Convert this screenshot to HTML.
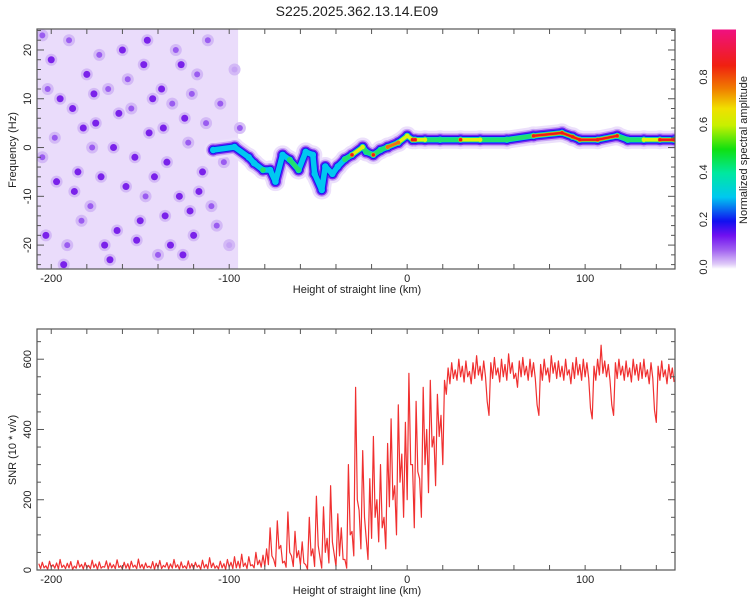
<!DOCTYPE html>
<html><head><meta charset="utf-8">
<style>
body{margin:0;background:#fff;}
svg{display:block;font-family:"Liberation Sans",sans-serif;}
</style></head>
<body>
<svg id="chart" width="750" height="600" xmlns="http://www.w3.org/2000/svg">
<defs>
<linearGradient id="cmap" x1="0" y1="1" x2="0" y2="0">
<stop offset="0" stop-color="#ffffff"/><stop offset="0.02" stop-color="#e0ccf8"/>
<stop offset="0.08" stop-color="#a060f0"/><stop offset="0.14" stop-color="#7010f0"/>
<stop offset="0.2" stop-color="#1010f0"/><stop offset="0.3" stop-color="#00c8f0"/>
<stop offset="0.4" stop-color="#00e8a0"/><stop offset="0.5" stop-color="#10e010"/>
<stop offset="0.6" stop-color="#c8f000"/><stop offset="0.67" stop-color="#f0e000"/>
<stop offset="0.75" stop-color="#f08000"/><stop offset="0.85" stop-color="#f02010"/>
<stop offset="1" stop-color="#f01080"/>
</linearGradient>
<clipPath id="clipTop"><rect x="37" y="29" width="638" height="240"/></clipPath>
<clipPath id="clipBot"><rect x="37" y="329" width="638" height="241"/></clipPath>
</defs>
<text x="357" y="16" text-anchor="middle" font-size="14" fill="#222">S225.2025.362.13.14.E09</text>
<g id="top"></g>
<g id="bot"></g>
<g id="cbar"></g>
</svg>
<script>
// ---- data ----
const xDomain = [-208, 150.5];
const fDomain = [-24.9, 24.3];
const snrDomain = [0, 686];
const xTicks = [-200, -100, 0, 100];
const fTicks = [-20, -10, 0, 10, 20];
const snrTicks = [0, 200, 400, 600];
const cbTicks = [0.0, 0.2, 0.4, 0.6, 0.8];
const cbLabels = ["0.0", "0.2", "0.4", "0.6", "0.8"];
const noiseRegion = [-208, -95];
const ridgeKm = [-109,-97,-89,-86,-81,-77,-74,-70,-66,-61,-57,-53,-52,-48,-46,-42,-39,-35,-31,-25,-23,-19,-15,-11,-5,0,3,4.5,10,18.5,30,41,56,71,87,93,97,107,118,124,133,142,150];
const ridgeHz = [-0.5,0.1,-2,-3.2,-4.6,-4.6,-7,-1.5,-2.5,-4.6,-0.9,-1.5,-5.4,-8.7,-3.9,-5.4,-3.9,-2.4,-1.5,0.1,-0.9,-1.5,-0.5,0.1,1,2.4,1.6,1.6,1.6,1.6,1.6,1.6,1.6,2.4,3.0,2.2,1.6,1.6,2.4,1.6,1.6,1.6,1.6];
const ridgeAmp = [0.3,0.3,0.28,0.3,0.4,0.35,0.3,0.3,0.45,0.45,0.35,0.35,0.3,0.3,0.3,0.3,0.35,0.5,0.85,0.6,0.45,0.8,0.5,0.75,0.75,0.65,0.85,0.9,0.6,0.5,0.8,0.6,0.55,0.85,0.9,0.8,0.8,0.85,0.85,0.5,0.6,0.9,0.85];
const blobKm = [-200,-195,-190,-185,-180,-178,-175,-170,-168,-165,-160,-158,-155,-150,-148,-145,-140,-138,-135,-130,-128,-125,-120,-118,-115,-112,-110,-105,-100,-97,-203,-198,-193,-188,-183,-173,-163,-153,-143,-133,-123,-187,-177,-167,-157,-147,-137,-127,-117,-107,-202,-197,-182,-172,-162,-152,-142,-132,-122,-113,-205,-205,-191,-176,-146,-136,-126,-121,-103,-94];
const blobHz = [18,10,22,-5,15,-12,5,-20,12,0,20,-8,8,-15,17,3,-22,12,-3,20,-10,6,-18,15,-5,22,-12,9,-20,16,-18,2,-24,8,-15,19,-17,-2,10,-20,1,-9,0,-23,14,-10,4,17,-9,-16,12,-7,4,-6,7,-19,-6,9,-13,5,-2,23,-20,11,22,-14,-22,11,-3,4];
const blobLevel = [3,3,2,3,3,2,3,3,2,3,3,3,2,3,3,3,2,3,3,2,3,3,3,2,3,2,2,2,1,1,3,2,3,3,2,2,3,3,3,3,2,3,2,3,2,2,3,3,3,2,2,3,3,3,3,3,3,2,3,2,2,2,2,3,3,3,3,2,2,2];
const snrStartKm = -207;
const snrStepKm = 2;
// per-bin maximum SNR
const snrValues = [18,22,12,25,15,20,30,14,19,24,11,27,16,21,13,28,17,23,10,26,20,15,29,12,22,18,25,14,31,16,20,11,24,19,27,13,21,17,30,15,23,12,26,18,22,14,28,16,35,20,12,25,18,30,22,38,
25,45,20,38,15,50,28,42,
60,120,30,140,70,25,165,40,110,55,
80,15,150,60,210,35,180,90,240,45,160,120,30,
300,110,520,170,340,90,260,
380,200,300,150,360,430,240,470,330,420,
560,300,480,260,520,400,540,380,500,440,
540,575,590,570,600,580,595,565,590,610,580,595,480,590,605,575,600,585,615,590,560,595,605,580,600,590,470,585,600,575,610,590,595,580,600,570,590,605,585,600,590,460,580,600,640,595,585,470,590,600,580,595,575,600,585,590,600,570,590,455,580,595,570,585,575];
// per-bin minimum SNR
const snrMin = [4,6,2,8,5,3,7,4,6,2,5,8,3,6,4,7,2,5,8,3,6,4,7,3,5,2,8,4,6,3,7,5,2,6,4,8,3,5,7,2,6,4,5,3,8,2,6,4,7,5,3,6,2,8,4,6,
5,10,4,12,6,15,8,10,
15,40,10,60,20,8,50,10,35,15,
20,2,40,10,70,5,50,20,80,10,40,30,5,
100,40,200,60,150,30,90,
150,80,120,60,180,200,100,250,150,200,
300,120,280,150,300,220,350,240,380,300,
500,530,545,540,550,535,550,530,545,555,540,550,440,545,555,535,550,540,560,545,520,550,555,540,550,545,440,540,555,535,560,545,550,540,555,530,545,555,540,550,545,430,540,555,560,550,540,440,545,555,540,550,535,555,540,545,550,530,545,420,540,550,530,545,535];

// ---- scales ----
const L=37,R=675,T1=29,B1=269,T2=329,B2=570;
const sx = v => L + (v - xDomain[0]) / (xDomain[1]-xDomain[0]) * (R-L);
const sf = v => B1 - (v - fDomain[0]) / (fDomain[1]-fDomain[0]) * (B1-T1);
const ss = v => B2 - (v - snrDomain[0]) / (snrDomain[1]-snrDomain[0]) * (B2-T2);
const NS="http://www.w3.org/2000/svg";
function mk(tag, attrs, parent){const e=document.createElementNS(NS,tag);for(const k in attrs)e.setAttribute(k,attrs[k]);parent.appendChild(e);return e;}
const gTop=document.getElementById('top'), gBot=document.getElementById('bot'), gCb=document.getElementById('cbar');

// ---- spectrogram ----
const heat = mk('g',{'clip-path':'url(#clipTop)'},gTop);


const bg = mk('rect',{x:sx(noiseRegion[0]),y:T1,width:sx(noiseRegion[1])-sx(noiseRegion[0]),height:B1-T1,fill:'#eadcfb'},heat);


const blobCol=['','#c6a4f4','#9a5cf0','#7a22ea'];
for(let i=0;i<blobKm.length;i++){
  const h=mk('circle',{cx:sx(blobKm[i]),cy:sf(blobHz[i]),r:6,fill:'#cdb0f5',opacity:0.8},heat);
  
  
  const c=mk('circle',{cx:sx(blobKm[i]),cy:sf(blobHz[i]),r:blobLevel[i]==3?3.5:3,fill:blobCol[blobLevel[i]]},heat);
  
  
}
const layers=[
 {lv:0.0,c:'#ece0fb',w:18},{lv:0.05,c:'#c8a6f5',w:13},{lv:0.12,c:'#7a28f0',w:10},
 {lv:0.2,c:'#1818f0',w:7.5},{lv:0.28,c:'#00c8f0',w:5.5},{lv:0.4,c:'#20e070',w:4.5},
 {lv:0.58,c:'#e0f010',w:3.5},{lv:0.72,c:'#f07010',w:3},{lv:0.8,c:'#f01818',w:2.2}];
layers.forEach(ly=>{
  for(let i=0;i<ridgeKm.length-1;i++){
    const a=Math.min(ridgeAmp[i],ridgeAmp[i+1]);
    if(a<ly.lv) continue;
    const s=mk('line',{x1:sx(ridgeKm[i]),y1:sf(ridgeHz[i]),x2:sx(ridgeKm[i+1]),y2:sf(ridgeHz[i+1]),stroke:ly.c,'stroke-width':ly.w,'stroke-linecap':'round'},heat);
    
    
  }
  for(let i=0;i<ridgeKm.length;i++){
    if(ridgeAmp[i]<ly.lv) continue;
    const p=mk('circle',{cx:sx(ridgeKm[i]),cy:sf(ridgeHz[i]),r:ly.w/2+0.5,fill:ly.c},heat);
    
    
  }
});

// ---- axes helper ----
function frame(g,T,B,name){
  const r=mk('rect',{x:L,y:T,width:R-L,height:B-T,fill:'none',stroke:'#555','stroke-width':1.2},g);
  
  
  for(let k=-200;k<=150;k+=20){
    const x=sx(k);
    mk('line',{x1:x,y1:B,x2:x,y2:B-5,stroke:'#555'},g);
    mk('line',{x1:x,y1:T,x2:x,y2:T+5,stroke:'#555'},g);
  }
  xTicks.forEach(k=>{
    const t=mk('text',{x:sx(k),y:B+13,'text-anchor':'middle','font-size':11,fill:'#222'},g);
    t.textContent=String(k);
    
    
  });
  const xt=mk('text',{x:357,y:B+24,'text-anchor':'middle','font-size':11,fill:'#222'},g);
  xt.textContent='Height of straight line (km)';
  
  
}
frame(gTop,T1,B1,'spectrogram-frame');
for(let f=-24;f<=24;f+=2){
  const y=sf(f), big=f%10===0;
  mk('line',{x1:L,y1:y,x2:L+(big?7:4),y2:y,stroke:'#555'},gTop);
  mk('line',{x1:R,y1:y,x2:R-(big?7:4),y2:y,stroke:'#555'},gTop);
}
fTicks.forEach(f=>{
  const t=mk('text',{x:0,y:0,'text-anchor':'middle','font-size':11,fill:'#222',transform:`translate(31,${sf(f)}) rotate(-90)`},gTop);
  t.textContent=String(f);
  
  
});
const ft=mk('text',{x:0,y:0,'text-anchor':'middle','font-size':11,fill:'#222',transform:'translate(16,150) rotate(-90)'},gTop);
ft.textContent='Frequency (Hz)';



// ---- SNR ----
const plot=mk('g',{'clip-path':'url(#clipBot)'},gBot);
const pts=[];
snrValues.forEach((v,i)=>{
  const k=snrStartKm+i*snrStepKm;
  pts.push(`${sx(k).toFixed(1)},${ss(v).toFixed(1)}`);
  pts.push(`${sx(k+snrStepKm/2).toFixed(1)},${ss(snrMin[i]).toFixed(1)}`);
});
const line=mk('polyline',{points:pts.join(' '),fill:'none',stroke:'#f03030','stroke-width':1.2,'stroke-linejoin':'round'},plot);


frame(gBot,T2,B2,'snr-frame');
for(let v=0;v<=686;v+=50){
  const y=ss(v), big=v%200===0;
  mk('line',{x1:L,y1:y,x2:L+(big?7:4),y2:y,stroke:'#555'},gBot);
  mk('line',{x1:R,y1:y,x2:R-(big?7:4),y2:y,stroke:'#555'},gBot);
}
snrTicks.forEach(v=>{
  const t=mk('text',{x:0,y:0,'text-anchor':'middle','font-size':11,fill:'#222',transform:`translate(31,${ss(v)}) rotate(-90)`},gBot);
  t.textContent=String(v);
  
  
});
const st=mk('text',{x:0,y:0,'text-anchor':'middle','font-size':11,fill:'#222',transform:'translate(16,450) rotate(-90)'},gBot);
st.textContent='SNR (10 * v/v)';



// ---- colorbar ----
const CT=29.5,CB=269;
const cbr=mk('rect',{x:712,y:CT,width:24,height:CB-CT,fill:'url(#cmap)'},gCb);


cbTicks.forEach((v,i)=>{
  const y=CB-2-v*(CB-2-CT);
  const t=mk('text',{x:0,y:0,'text-anchor':'middle','font-size':11,fill:'#222',transform:`translate(707,${y}) rotate(-90)`},gCb);
  t.textContent=cbLabels[i];
  
  
});
const ct=mk('text',{x:0,y:0,'text-anchor':'middle','font-size':11,fill:'#222',transform:'translate(747,150) rotate(-90)'},gCb);
ct.textContent='Normalized spectral amplitude';


</script>
</body></html>
